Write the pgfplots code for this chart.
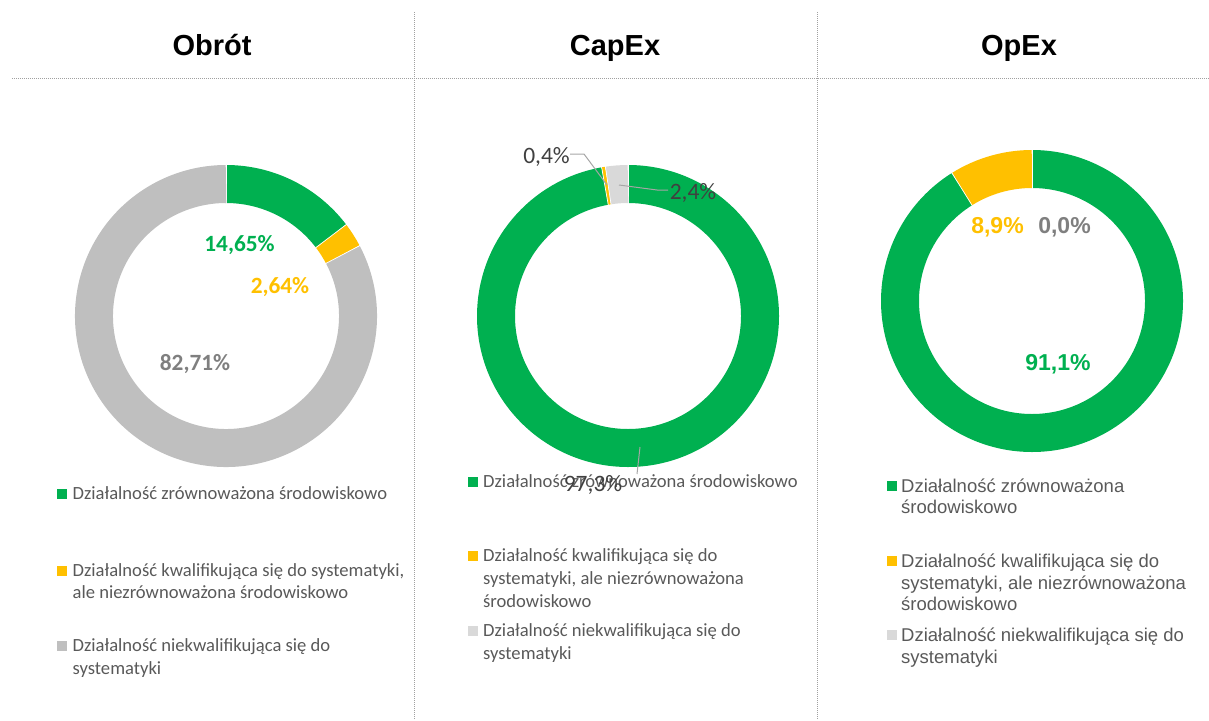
\documentclass[border=0pt]{standalone}
\usepackage{pgfplots}
\pgfplotsset{compat=1.18}
\usepackage{pgfplotstable}
\usepackage{fontspec}
\setmainfont{Carlito}
\newfontfamily\arialf{Liberation Sans}
\newfontfamily\calibrif{Carlito}
\definecolor{cgreen}{HTML}{00B050}
\definecolor{cyellow}{HTML}{FFC000}
\definecolor{cgrey}{HTML}{BFBFBF}
\definecolor{clight}{HTML}{D9D9D9}
\definecolor{ctext}{HTML}{595959}
\definecolor{clabel}{HTML}{404040}
\definecolor{cdark}{HTML}{7F7F7F}
\definecolor{cline}{HTML}{A6A6A6}
\definecolor{csep}{HTML}{A0A0A0}

\pgfplotstableread{
value color
14.65 cgreen
2.64 cyellow
82.71 cgrey
}\obrot
\pgfplotstableread{
value color
97.3 cgreen
0.4 cyellow
2.4 clight
}\capex
\pgfplotstableread{
value color
91.1 cgreen
8.9 cyellow
0.0 clight
}\opex

% draws one donut from a table (values in percent, clockwise from 12 o'clock)
\newcommand\donut[1]{%
  \pgfplotstablegetrowsof{#1}\pgfmathtruncatemacro\dlast{\pgfplotsretval-1}%
  \gdef\dtotal{0}%
  \foreach \i in {0,...,\dlast}{%
    \pgfplotstablegetelem{\i}{value}\of{#1}%
    \pgfmathsetmacro\dtmp{\dtotal+\pgfplotsretval}\global\let\dtotal\dtmp}%
  \gdef\dcum{0}%
  \foreach \i in {0,...,\dlast}{%
    \pgfplotstablegetelem{\i}{value}\of{#1}\let\dval\pgfplotsretval
    \pgfplotstablegetelem{\i}{color}\of{#1}\let\dcol\pgfplotsretval
    \pgfmathsetmacro\dsa{90-(\dcum/\dtotal)*360}%
    \pgfmathsetmacro\dea{90-((\dcum+\dval)/\dtotal)*360}%
    \pgfmathsetmacro\dtmp{\dcum+\dval}\global\let\dcum\dtmp
    \edef\dcmd{\noexpand\draw[\dcol, line width=38pt] (axis cs:0,0) ++(\dsa:132pt) arc[start angle=\dsa, end angle=\dea, radius=132pt];
      \noexpand\draw[white, line width=0.7pt] (axis cs:0,0) ++(\dsa:112pt) -- ++(\dsa:40pt);}%
    \dcmd
  }%
}

\newcommand\legC[3]{\node[anchor=base west, inner sep=0pt, text=ctext, font=\calibrif\fontsize{18.6}{22}\selectfont] at (#1,#2) {#3};}
\newcommand\legA[3]{\node[anchor=base west, inner sep=0pt, text=ctext, font=\arialf\fontsize{18.5}{22}\selectfont] at (#1,#2) {#3};}
\newcommand\mk[3]{\fill[#3] (#1-5,#2-5) rectangle (#1+5,#2+5);}

\begin{document}
\begin{tikzpicture}[x=1pt, y=-1pt]
\path[use as bounding box] (0,0) rectangle (1209,720);

% separators
\draw[csep, line width=1pt, dash pattern=on 1pt off 1pt] (12,78) -- (1209,78);
\draw[csep, line width=1pt, dash pattern=on 1pt off 1pt] (414,12) -- (414,720);
\draw[csep, line width=1pt, dash pattern=on 1pt off 1pt] (817,12) -- (817,720);

% titles
\node[anchor=base, inner sep=0pt, font=\arialf\bfseries\fontsize{29}{34}\selectfont] at (212,55) {Obrót};
\node[anchor=base, inner sep=0pt, font=\arialf\bfseries\fontsize{29}{34}\selectfont] at (615,55) {CapEx};
\node[anchor=base, inner sep=0pt, font=\arialf\bfseries\fontsize{29}{34}\selectfont] at (1019,55) {OpEx};

% donuts
\begin{axis}[hide axis, clip=false, scale only axis, width=300pt, height=300pt,
  xmin=-1, xmax=1, ymin=-1, ymax=1, at={(226pt,-316pt)}, anchor=center]
\donut{\obrot}
\end{axis}
\begin{axis}[hide axis, clip=false, scale only axis, width=300pt, height=300pt,
  xmin=-1, xmax=1, ymin=-1, ymax=1, at={(628pt,-316pt)}, anchor=center]
\donut{\capex}
\end{axis}
\begin{axis}[hide axis, clip=false, scale only axis, width=300pt, height=300pt,
  xmin=-1, xmax=1, ymin=-1, ymax=1, at={(1032pt,-301pt)}, anchor=center]
\donut{\opex}
\end{axis}

% data labels Obrot
\node[anchor=base, inner sep=0pt, text=cgreen, font=\calibrif\bfseries\fontsize{23.3}{26}\selectfont] at (239.5,251) {14,65\%};
\node[anchor=base, inner sep=0pt, text=cyellow, font=\calibrif\bfseries\fontsize{23.3}{26}\selectfont] at (280,293) {2,64\%};
\node[anchor=base, inner sep=0pt, text=cdark, font=\calibrif\bfseries\fontsize{23.3}{26}\selectfont] at (195,370) {82,71\%};

% data labels CapEx
\draw[cline, line width=1pt] (570,154) -- (584,154) -- (607,185);
\draw[cline, line width=1pt] (619,185) -- (657,190) -- (668,190);
\draw[cline, line width=1pt] (640,447) -- (637,474);
\node[anchor=base, inner sep=0pt, text=clabel, font=\calibrif\fontsize{23.5}{26}\selectfont] at (546.5,163) {0,4\%};
\node[anchor=base, inner sep=0pt, text=clabel, font=\calibrif\fontsize{23.5}{26}\selectfont] at (693,199) {2,4\%};

% legend Obrot
\mk{62}{494}{cgreen}
\legC{72.5}{499.5}{Działalność zrównoważona środowiskowo}
\mk{62}{571}{cyellow}
\legC{72.5}{576.5}{Działalność kwalifikująca się do systematyki,}
\legC{72.5}{598.5}{ale niezrównoważona środowiskowo}
\mk{62}{646}{cgrey}
\legC{72.5}{651.5}{Działalność niekwalifikująca się do}
\legC{72.5}{674}{systematyki}

% legend CapEx
\mk{473}{482}{cgreen}
\legC{483}{487.5}{Działalność zrównoważona środowiskowo}
\mk{473}{556}{cyellow}
\legC{483}{561.5}{Działalność kwalifikująca się do}
\legC{483}{584}{systematyki, ale niezrównoważona}
\legC{483}{607}{środowiskowo}
\mk{473}{631}{clight}
\legC{483}{636.5}{Działalność niekwalifikująca się do}
\legC{483}{659}{systematyki}
\node[anchor=base, inner sep=0pt, text=clabel, font=\calibrif\fontsize{23.5}{26}\selectfont] at (593,491) {97,3\%};

% legend OpEx
\mk{892}{486}{cgreen}
\legA{901}{492.5}{Działalność zrównoważona}
\legA{901}{513.5}{środowiskowo}
\mk{892}{561}{cyellow}
\legA{901}{567.5}{Działalność kwalifikująca się do}
\legA{901}{589.5}{systematyki, ale niezrównoważona}
\legA{901}{610.5}{środowiskowo}
\mk{892}{635}{clight}
\legA{901}{641.5}{Działalność niekwalifikująca się do}
\legA{901}{663.5}{systematyki}

% data labels OpEx
\node[anchor=base, inner sep=0pt, text=cyellow, font=\arialf\bfseries\fontsize{23}{27}\selectfont] at (997.5,233) {8,9\%};
\node[anchor=base, inner sep=0pt, text=cdark, font=\arialf\bfseries\fontsize{23}{27}\selectfont] at (1064.5,233) {0,0\%};
\node[anchor=base, inner sep=0pt, text=cgreen, font=\arialf\bfseries\fontsize{23}{27}\selectfont] at (1058,370) {91,1\%};
\end{tikzpicture}
\end{document}
